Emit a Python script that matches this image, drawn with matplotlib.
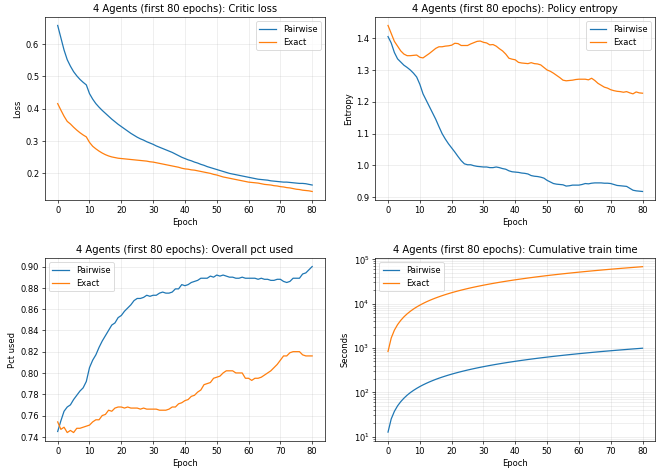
import numpy as np
import matplotlib
matplotlib.use("Agg")
import matplotlib.pyplot as plt

# epochs 0..80
epochs = list(range(81))

critic_pairwise = [
    0.658, 0.620, 0.582, 0.552, 0.532, 0.515, 0.502, 0.491, 0.482, 0.474,
    0.447, 0.430, 0.416, 0.405, 0.395, 0.386, 0.377, 0.368, 0.360, 0.352,
    0.345, 0.338, 0.331, 0.324, 0.318, 0.312, 0.307, 0.303, 0.298, 0.294,
    0.290, 0.285, 0.281, 0.277, 0.273, 0.269, 0.265, 0.260, 0.255, 0.250,
    0.246, 0.242, 0.239, 0.235, 0.232, 0.228, 0.225, 0.221, 0.218, 0.215,
    0.212, 0.209, 0.206, 0.203, 0.200, 0.198, 0.196, 0.194, 0.192, 0.190,
    0.188, 0.186, 0.184, 0.182, 0.181, 0.180, 0.179, 0.177, 0.176, 0.175,
    0.174, 0.173, 0.173, 0.172, 0.171, 0.170, 0.169, 0.169, 0.168, 0.166,
    0.164,
]
critic_exact = [
    0.416, 0.396, 0.377, 0.361, 0.353, 0.343, 0.334, 0.326, 0.319, 0.313,
    0.296, 0.284, 0.276, 0.269, 0.263, 0.258, 0.254, 0.251, 0.249, 0.247,
    0.246, 0.245, 0.244, 0.243, 0.242, 0.241, 0.240, 0.239, 0.238, 0.236,
    0.235, 0.233, 0.231, 0.229, 0.227, 0.225, 0.223, 0.221, 0.219, 0.216,
    0.214, 0.213, 0.211, 0.210, 0.208, 0.206, 0.204, 0.202, 0.200, 0.197,
    0.195, 0.192, 0.189, 0.187, 0.185, 0.183, 0.181, 0.179, 0.177, 0.175,
    0.173, 0.172, 0.171, 0.170, 0.168, 0.166, 0.165, 0.164, 0.162, 0.161,
    0.159, 0.158, 0.156, 0.155, 0.153, 0.151, 0.150, 0.148, 0.147, 0.146,
    0.144,
]

entropy_pairwise = [
    1.405, 1.385, 1.355, 1.335, 1.325, 1.315, 1.308, 1.300, 1.290, 1.278,
    1.255, 1.225, 1.205, 1.185, 1.165, 1.145, 1.122, 1.100, 1.083, 1.068,
    1.055, 1.042, 1.028, 1.015, 1.005, 1.002, 1.002, 0.999, 0.997, 0.996,
    0.995, 0.995, 0.993, 0.993, 0.995, 0.993, 0.990, 0.988, 0.983, 0.980,
    0.979, 0.978, 0.976, 0.975, 0.973, 0.968, 0.966, 0.965, 0.963, 0.960,
    0.953, 0.948, 0.943, 0.941, 0.940, 0.939, 0.935, 0.936, 0.938, 0.938,
    0.938, 0.940, 0.943, 0.942, 0.944, 0.945, 0.945, 0.945, 0.944, 0.944,
    0.943, 0.940, 0.937, 0.936, 0.935, 0.934, 0.928, 0.922, 0.920, 0.919,
    0.918,
]
entropy_exact = [
    1.440, 1.415, 1.390, 1.375, 1.360, 1.350, 1.345, 1.345, 1.346, 1.347,
    1.340, 1.338, 1.345, 1.352, 1.360, 1.368, 1.373, 1.373, 1.375, 1.376,
    1.378, 1.384, 1.383, 1.377, 1.377, 1.377, 1.382, 1.386, 1.390, 1.391,
    1.387, 1.385, 1.379, 1.380, 1.375, 1.367, 1.360, 1.350, 1.337, 1.334,
    1.332, 1.324, 1.322, 1.321, 1.320, 1.323, 1.320, 1.319, 1.316, 1.308,
    1.300, 1.296, 1.290, 1.283, 1.276, 1.268, 1.266, 1.267, 1.268, 1.270,
    1.271, 1.271, 1.271, 1.269, 1.274, 1.267, 1.258, 1.252, 1.246, 1.243,
    1.238, 1.235, 1.233, 1.232, 1.230, 1.232, 1.228, 1.225, 1.231, 1.228,
    1.227,
]

pct_pairwise = [
    0.745, 0.755, 0.764, 0.768, 0.770, 0.775, 0.779, 0.783, 0.786, 0.792,
    0.805, 0.812, 0.817, 0.824, 0.830, 0.835, 0.840, 0.845, 0.847, 0.852,
    0.854, 0.858, 0.861, 0.864, 0.868, 0.870, 0.870, 0.871, 0.873, 0.872,
    0.873, 0.873, 0.875, 0.876, 0.875, 0.875, 0.876, 0.879, 0.879, 0.883,
    0.882, 0.883, 0.885, 0.886, 0.887, 0.889, 0.889, 0.889, 0.891, 0.890,
    0.892, 0.891, 0.892, 0.891, 0.890, 0.890, 0.889, 0.889, 0.890, 0.889,
    0.889, 0.889, 0.889, 0.888, 0.889, 0.888, 0.888, 0.887, 0.887, 0.888,
    0.888, 0.886, 0.885, 0.886, 0.889, 0.889, 0.889, 0.893, 0.894, 0.897,
    0.900,
]
pct_exact = [
    0.754, 0.747, 0.749, 0.744, 0.746, 0.744, 0.748, 0.748, 0.749, 0.750,
    0.751, 0.754, 0.756, 0.756, 0.760, 0.761, 0.765, 0.764, 0.767, 0.768,
    0.768, 0.767, 0.768, 0.767, 0.767, 0.767, 0.766, 0.767, 0.766, 0.766,
    0.766, 0.766, 0.765, 0.765, 0.765, 0.766, 0.768, 0.768, 0.771, 0.772,
    0.774, 0.775, 0.778, 0.779, 0.782, 0.784, 0.789, 0.790, 0.791, 0.795,
    0.796, 0.797, 0.800, 0.802, 0.802, 0.802, 0.800, 0.800, 0.800, 0.795,
    0.795, 0.793, 0.795, 0.795, 0.796, 0.798, 0.800, 0.802, 0.805, 0.808,
    0.812, 0.816, 0.816, 0.819, 0.820, 0.820, 0.820, 0.817, 0.816, 0.816,
    0.816,
]

# seconds spent per epoch (summed to get the cumulative curve)
epoch_time_pairwise = [
    12.6, 12.3, 12.1, 12.2, 12.0, 12.1, 12.3, 12.2, 12.0, 12.1,
    12.2, 12.1, 12.0, 12.2, 12.1, 12.3, 12.1, 12.0, 12.1, 12.2,
    12.1, 12.0, 12.2, 12.1, 12.1, 12.3, 12.0, 12.1, 12.2, 12.1,
    12.0, 12.1, 12.2, 12.1, 12.0, 12.1, 12.2, 12.1, 12.1, 12.0,
    12.2, 12.1, 12.0, 12.1, 12.2, 12.1, 12.1, 12.0, 12.2, 12.1,
    12.1, 12.0, 12.1, 12.2, 12.1, 12.0, 12.1, 12.2, 12.1, 12.1,
    12.0, 12.1, 12.2, 12.1, 12.0, 12.1, 12.2, 12.1, 12.1, 12.0,
    12.1, 12.2, 12.1, 12.0, 12.1, 12.1, 12.2, 12.1, 12.0, 12.1,
    12.1,
]
epoch_time_exact = [
    830, 836, 841, 833, 829, 838, 835, 832, 840, 834,
    831, 837, 839, 833, 835, 830, 836, 842, 834, 833,
    838, 835, 831, 837, 834, 836, 839, 832, 835, 834,
    837, 833, 836, 838, 832, 835, 834, 837, 833, 836,
    835, 838, 832, 834, 837, 835, 833, 836, 834, 839,
    832, 835, 837, 834, 836, 833, 835, 838, 834, 832,
    836, 835, 837, 833, 834, 836, 835, 832, 838, 834,
    835, 836, 833, 837, 834, 835, 836, 833, 835, 837,
    834,
]

cum_pairwise = np.cumsum(epoch_time_pairwise)
cum_exact = np.cumsum(epoch_time_exact)

fig, axes = plt.subplots(2, 2, figsize=(11.02, 7.82), dpi=60)
fig.subplots_adjust(left=0.068, right=0.991, top=0.963, bottom=0.06,
                    wspace=0.18, hspace=0.32)

panels = [
    (axes[0, 0], critic_pairwise, critic_exact, 'Critic loss', 'Loss', 'upper right'),
    (axes[0, 1], entropy_pairwise, entropy_exact, 'Policy entropy', 'Entropy', 'upper right'),
    (axes[1, 0], pct_pairwise, pct_exact, 'Overall pct used', 'Pct used', 'upper left'),
    (axes[1, 1], cum_pairwise, cum_exact, 'Cumulative train time', 'Seconds', 'upper left'),
]

for ax, pw, ex, name, ylab, loc in panels:
    ax.plot(epochs, pw, label='Pairwise', color='#1f77b4', linewidth=1.5)
    ax.plot(epochs, ex, label='Exact', color='#ff7f0e', linewidth=1.5)
    ax.set_title(f'4 Agents (first 80 epochs): {name}', fontsize=12)
    ax.set_xlabel('Epoch')
    ax.set_ylabel(ylab)
    ax.set_xticks(range(0, 81, 10))
    ax.legend(loc=loc)

for ax in [axes[0, 0], axes[0, 1], axes[1, 0]]:
    ax.grid(True, alpha=0.3)

ax = axes[1, 1]
ax.set_yscale('log')
ax.set_ylim(8, 1.05e5)
ax.grid(True, which='both', alpha=0.3)

axes[1, 0].set_yticks(np.arange(0.74, 0.901, 0.02))

plt.savefig('out.png', dpi=60)
